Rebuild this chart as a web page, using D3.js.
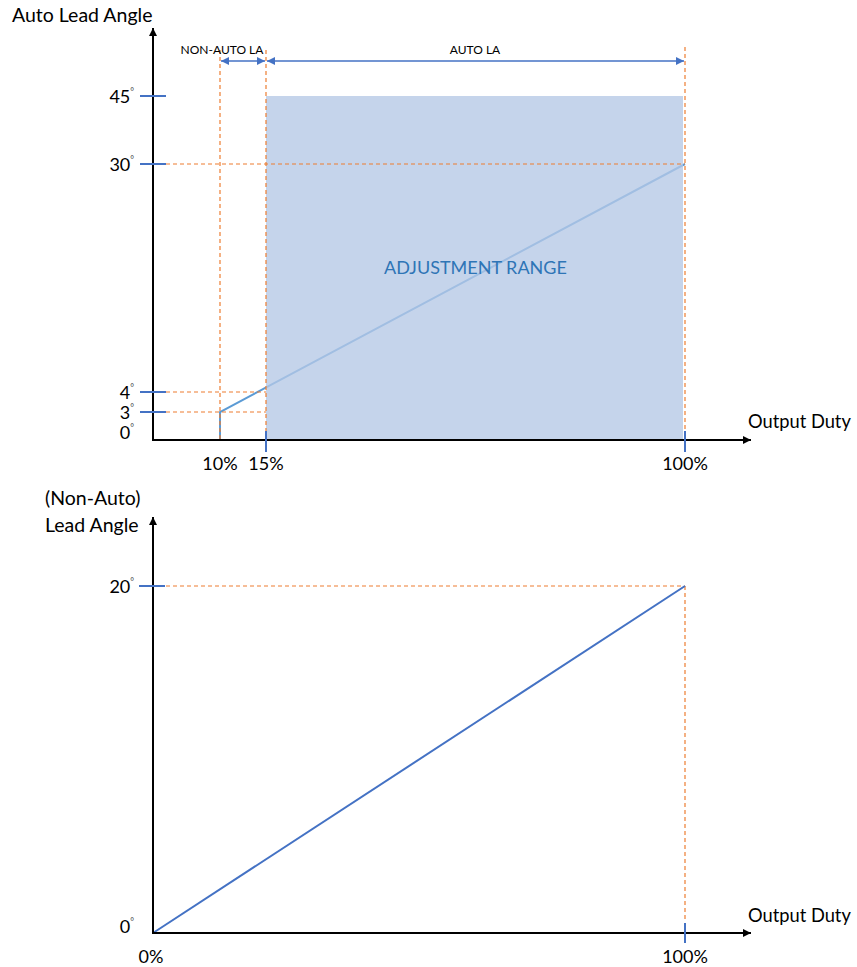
<!DOCTYPE html>
<html>
<head>
<meta charset="utf-8">
<script src="https://cdn.jsdelivr.net/npm/d3@7"></script>
<style>
  html, body { margin: 0; padding: 0; background: #fff; }
  svg { display: block; }
  text { font-family: Lato, "Open Sans", sans-serif; fill: #000; }
</style>
</head>
<body>
<svg id="chart" width="857" height="967"></svg>
<script>
// ---------- DATA ----------
// Top chart: Auto Lead Angle vs Output Duty
const topXTicks = [10, 15, 100];
const topXTickLabels = ["10%", "15%", "100%"];
const topXTickMarks = [15, 100];
const topYTicks = [0, 3, 4, 30, 45];
const topYTickLabels = ["0", "3", "4", "30", "45"];
const topYTickMarks = [3, 4, 30, 45];
const autoLeadLine = [[10, 0], [10, 3], [100, 30]];
const adjustRangeX = [15, 100];
const adjustRangeY = [0, 45];
const guideH = [[3, 15], [4, 15], [30, 100]];   // [angle, duty end]
const guideV = [10, 15, 100];
const spanArrows = [[10, 15, "NON-AUTO LA"], [15, 100, "AUTO LA"]];

// Bottom chart: Non-Auto Lead Angle vs Output Duty
const botXTicks = [0, 100];
const botXTickLabels = ["0%", "100%"];
const botYTicks = [0, 20];
const botYTickLabels = ["0", "20"];
const nonAutoLine = [[0, 0], [100, 20]];

// ---------- COLOURS ----------
const BLUE = "#4472C4";
const LINEBLUE = "#5B9BD5";
const ORANGE = "#ED7D31";

const svg = d3.select("#chart");
const defs = svg.append("defs");
function marker(id, color, w, h) {
  defs.append("marker").attr("id", id)
    .attr("viewBox", "0 0 10 10").attr("refX", 10).attr("refY", 5)
    .attr("markerUnits", "userSpaceOnUse")
    .attr("markerWidth", w).attr("markerHeight", h)
    .attr("orient", "auto-start-reverse")
    .append("path").attr("d", "M0,0L10,5L0,10Z").attr("fill", color);
}
marker("arrBlack", "#000", 11, 8);
marker("arrBlue", BLUE, 9, 8);

// ---------- TOP CHART ----------
const x1 = d3.scaleLinear().domain([0, 10, 15, 100]).range([153, 220, 266, 685]);
const y1 = d3.scaleLinear().domain([0, 3, 4, 30, 45]).range([440, 412, 392, 164, 96]);
const gTop = svg.append("g");

// auto lead angle line (under the range box)
const line1 = d3.line().x(d => x1(d[0])).y(d => y1(d[1]));
gTop.append("path").datum(autoLeadLine).attr("d", line1)
  .attr("fill", "none").attr("stroke", LINEBLUE).attr("stroke-width", 2);

// adjustment range box
gTop.append("rect")
  .attr("x", x1(adjustRangeX[0])).attr("y", y1(adjustRangeY[1]))
  .attr("width", x1(adjustRangeX[1]) - x1(adjustRangeX[0]) - 2)
  .attr("height", y1(adjustRangeY[0]) - y1(adjustRangeY[1]))
  .attr("fill", "rgb(181,200,229)").attr("fill-opacity", 0.78);

gTop.append("text").attr("x", (x1(adjustRangeX[0]) + x1(adjustRangeX[1])) / 2).attr("y", 274)
  .attr("text-anchor", "middle").attr("font-size", 18).style("fill", "#2E75B6")
  .text("ADJUSTMENT RANGE");

// orange guides
guideH.forEach(([a, dEnd]) => {
  gTop.append("line").attr("x1", 166).attr("x2", x1(dEnd))
    .attr("y1", y1(a)).attr("y2", y1(a))
    .attr("stroke", ORANGE).attr("stroke-width", 1.2).attr("stroke-dasharray", "4,3");
});
guideV.forEach(d => {
  gTop.append("line").attr("x1", x1(d)).attr("x2", x1(d))
    .attr("y1", d === 100 ? 47 : 50).attr("y2", d === 100 ? 430 : 440)
    .attr("stroke", ORANGE).attr("stroke-width", 1.2).attr("stroke-dasharray", "4,3");
});

// span arrows
spanArrows.forEach(([a, b, label]) => {
  gTop.append("line").attr("x1", x1(a) + 1).attr("x2", x1(b) - 1).attr("y1", 61).attr("y2", 61)
    .attr("stroke", BLUE).attr("stroke-width", 1.5)
    .attr("marker-start", "url(#arrBlue)").attr("marker-end", "url(#arrBlue)");
});
gTop.append("text").attr("x", 222).attr("y", 54).attr("text-anchor", "middle")
  .attr("font-size", 12).text(spanArrows[0][2]);
gTop.append("text").attr("x", 475).attr("y", 54).attr("text-anchor", "middle")
  .attr("font-size", 12).text(spanArrows[1][2]);

// axes
gTop.append("line").attr("x1", x1(0)).attr("x2", x1(0)).attr("y1", y1(0)).attr("y2", 28)
  .attr("stroke", "#000").attr("stroke-width", 2).attr("marker-end", "url(#arrBlack)");
gTop.append("line").attr("x1", x1(0) - 1).attr("x2", 751).attr("y1", y1(0)).attr("y2", y1(0))
  .attr("stroke", "#000").attr("stroke-width", 2).attr("marker-end", "url(#arrBlack)");

// y tick marks
topYTickMarks.forEach(v => {
  gTop.append("line").attr("x1", 140).attr("x2", 166).attr("y1", y1(v)).attr("y2", y1(v))
    .attr("stroke", BLUE).attr("stroke-width", 2);
});
// x tick marks
topXTickMarks.forEach(v => {
  gTop.append("line").attr("x1", x1(v)).attr("x2", x1(v)).attr("y1", 431).attr("y2", 452)
    .attr("stroke", BLUE).attr("stroke-width", 2);
});

function degLabel(g, x, y, txt) {
  const t = g.append("text").attr("x", x).attr("y", y).attr("text-anchor", "end")
    .attr("font-size", 18);
  t.append("tspan").text(txt);
  t.append("tspan").attr("font-size", 9).attr("dy", -8).style("fill", "#444").text("°");
}
topYTicks.forEach((v, i) => {
  const yy = v === 0 ? 439 : y1(v) + 6.5;
  degLabel(gTop, 134, yy, topYTickLabels[i]);
});
topXTicks.forEach((v, i) => {
  gTop.append("text").attr("x", x1(v)).attr("y", 470).attr("text-anchor", "middle")
    .attr("font-size", 18).text(topXTickLabels[i]);
});

gTop.append("text").attr("x", 12).attr("y", 22).attr("font-size", 19.5).text("Auto Lead Angle");
gTop.append("text").attr("x", 748).attr("y", 428).attr("font-size", 18.3).text("Output Duty");

// ---------- BOTTOM CHART ----------
const x2 = d3.scaleLinear().domain([0, 100]).range([153, 685]);
const y2 = d3.scaleLinear().domain([0, 20]).range([933, 586]);
const gBot = svg.append("g");

gBot.append("line").attr("x1", 166).attr("x2", x2(100)).attr("y1", y2(20)).attr("y2", y2(20))
  .attr("stroke", ORANGE).attr("stroke-width", 1.2).attr("stroke-dasharray", "4,3");
gBot.append("line").attr("x1", x2(100)).attr("x2", x2(100)).attr("y1", y2(20)).attr("y2", 922)
  .attr("stroke", ORANGE).attr("stroke-width", 1.2).attr("stroke-dasharray", "4,3");

const line2 = d3.line().x(d => x2(d[0])).y(d => y2(d[1]));
gBot.append("path").datum(nonAutoLine).attr("d", line2)
  .attr("fill", "none").attr("stroke", BLUE).attr("stroke-width", 2);

gBot.append("line").attr("x1", x2(0)).attr("x2", x2(0)).attr("y1", y2(0)).attr("y2", 517)
  .attr("stroke", "#000").attr("stroke-width", 2).attr("marker-end", "url(#arrBlack)");
gBot.append("line").attr("x1", x2(0) - 1).attr("x2", 751).attr("y1", y2(0)).attr("y2", y2(0))
  .attr("stroke", "#000").attr("stroke-width", 2).attr("marker-end", "url(#arrBlack)");

gBot.append("line").attr("x1", 139).attr("x2", 165).attr("y1", y2(20)).attr("y2", y2(20))
  .attr("stroke", BLUE).attr("stroke-width", 2);
gBot.append("line").attr("x1", x2(100)).attr("x2", x2(100)).attr("y1", 923).attr("y2", 943)
  .attr("stroke", BLUE).attr("stroke-width", 2);

botYTicks.forEach((v, i) => {
  const yy = v === 0 ? 933 : y2(v) + 6.5;
  degLabel(gBot, 134, yy, botYTickLabels[i]);
});
botXTicks.forEach((v, i) => {
  gBot.append("text").attr("x", v === 0 ? 151 : x2(v)).attr("y", 963).attr("text-anchor", "middle")
    .attr("font-size", 18).text(botXTickLabels[i]);
});

gBot.append("text").attr("x", 45).attr("y", 505).attr("font-size", 19.5).text("(Non-Auto)");
gBot.append("text").attr("x", 45).attr("y", 532).attr("font-size", 19.5).text("Lead Angle");
gBot.append("text").attr("x", 748).attr("y", 922).attr("font-size", 18.3).text("Output Duty");
</script>
</body>
</html>
